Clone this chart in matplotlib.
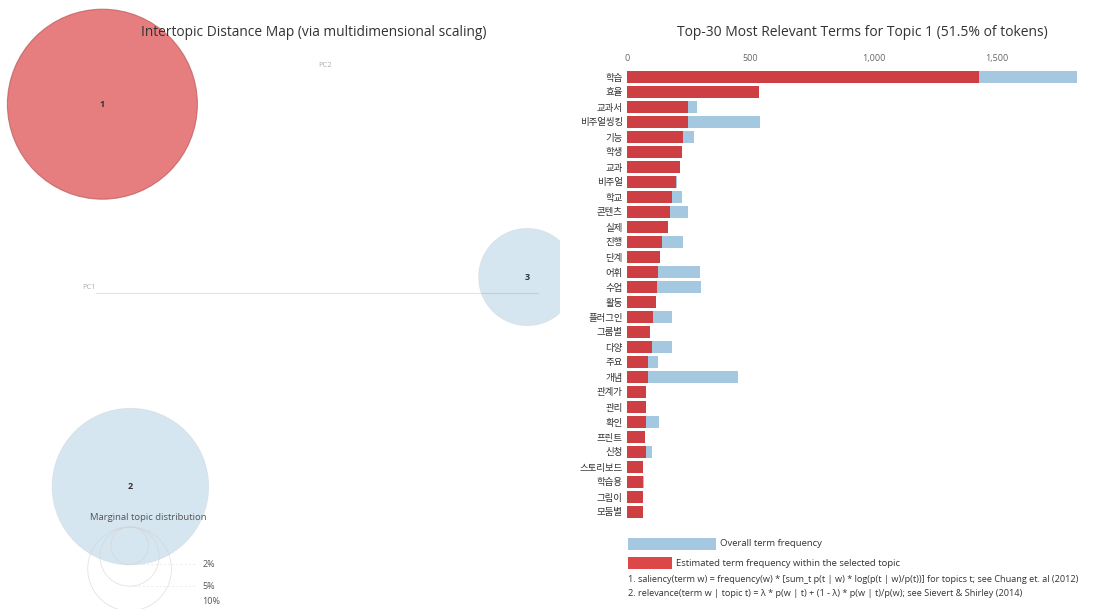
import matplotlib
matplotlib.use("Agg")
import matplotlib.pyplot as plt
from matplotlib.patches import Circle, Rectangle

plt.rcParams['font.family'] = ['Open Sans', 'Noto Sans CJK KR', 'DejaVu Sans']

# terms shown for topic 1, top to bottom
terms = ["학습", "효율", "교과서", "비주얼씽킹", "기능", "학생", "교과", "비주얼", "학교", "콘텐츠",
         "실제", "진행", "단계", "어휘", "수업", "활동", "플러그인", "그룹별", "다양", "주요",
         "개념", "관계가", "관리", "확인", "프린트", "신청", "스토리보드", "학습용", "그림이", "모둠별"]
# estimated term frequency within topic 1
topic_freq = [1429, 534, 247, 247, 227, 221, 214, 198, 182, 174,
              166, 141, 134, 126, 121, 117, 105, 93, 101, 85,
              85, 77, 77, 79, 73, 79, 65, 65, 63, 63]
# overall term frequency
total_freq = [1826, 534, 283, 538, 271, 221, 214, 202, 223, 247,
              166, 227, 134, 296, 302, 117, 182, 93, 182, 126,
              449, 77, 77, 130, 73, 101, 65, 70, 63, 63]
freq_ticks = [0, 500, 1000, 1500]

# intertopic map
topic_ids = [1, 2, 3]
topic_pc1 = [-0.272, -0.237, 0.259]
topic_pc2 = [0.236, -0.242, 0.020]
topic_share = [51.5, 35.0, 13.5]   # % of tokens
legend_share = [2, 5, 10]

W, H = 1109, 609
fig = plt.figure(figsize=(W / 100, H / 100), dpi=100)

def fx(px):
    return px / W

def fy(py):
    return 1 - py / H

# ---- left panel: intertopic distance map ----
PX_PER_UNIT = 800.0
ox, oy = 320, 293
axl = fig.add_axes([0, 0, fx(560), 1])
axl.set_xlim(-ox / PX_PER_UNIT, (560 - ox) / PX_PER_UNIT)
axl.set_ylim(-(H - oy) / PX_PER_UNIT, oy / PX_PER_UNIT)
axl.axis("off")

k = 13.24 / PX_PER_UNIT  # radius per sqrt(% share)

# PC1 axis line
axl.plot([-0.28, 0.272], [0, 0], color="#e4e4e4", lw=0.8, zorder=0)
axl.text(-0.297, 0.002, "PC1", fontsize=5.5, color="#b0b0b0", ha="left", va="bottom")
axl.text(0.006, 0.28, "PC2", fontsize=5.5, color="#b0b0b0", ha="center", va="bottom")

for tid, x, y, s in zip(topic_ids, topic_pc1, topic_pc2, topic_share):
    r = k * s ** 0.5
    if tid == 1:
        c = Circle((x, y), r, facecolor="#d62728", alpha=0.6, edgecolor="#b04a4a", lw=0.8, zorder=2)
    else:
        c = Circle((x, y), r, facecolor="#1f77b4", alpha=0.18, edgecolor="#a8a8a8", lw=0.6, zorder=2)
    axl.add_patch(c)
    axl.text(x, y, str(tid), fontsize=6.5, color="#333333", ha="center", va="center",
             fontweight="bold", zorder=3)

# marginal topic distribution legend
lx = -0.238
ltop = -(527 - oy) / PX_PER_UNIT
label_floor = -(601 - oy) / PX_PER_UNIT
axl.text(-0.215, -(518 - oy) / PX_PER_UNIT, "Marginal topic distribution", fontsize=6.8,
         color="#555555", ha="center", va="center", zorder=4)
for s in legend_share:
    r = k * s ** 0.5
    cy = ltop - r
    axl.add_patch(Circle((lx, cy), r, facecolor="none", edgecolor="#d0d0d0",
                         lw=0.6, alpha=0.6, zorder=3))
    axl.plot([lx, -0.155], [cy - r, cy - r], color="#e6e6e6", lw=0.5, ls=(0, (3, 3)), zorder=3)
    axl.text(-0.147, max(cy - r, label_floor), "%d%%" % s, fontsize=6.5, color="#555555",
             ha="left", va="center")

fig.text(fx(314), fy(32), "Intertopic Distance Map (via multidimensional scaling)",
         fontsize=9.9, color="#333333", ha="center", va="center")

# ---- right panel: term bars ----
x0, x1 = 627, 1080
y0, y1 = 69.5, 519.5
axr = fig.add_axes([fx(x0), fy(y1), fx(x1 - x0), (y1 - y0) / H])
xmax = (x1 - x0) / (370 / 1500)
axr.set_xlim(0, xmax)
axr.set_ylim(len(terms) - 0.5, -0.5)
rows = list(range(len(terms)))
axr.barh(rows, total_freq, height=0.8, color="#1f77b4", alpha=0.4, lw=0)
axr.barh(rows, topic_freq, height=0.8, color="#d62728", alpha=0.85, lw=0)
axr.set_yticks(rows)
axr.set_yticklabels(terms, fontsize=6.8, color="#333333")
axr.xaxis.tick_top()
axr.set_xticks(freq_ticks)
axr.set_xticklabels(["{:,}".format(t) for t in freq_ticks], fontsize=6.5, color="#666666")
axr.tick_params(axis="x", length=0, pad=5)
axr.tick_params(axis="y", length=0, pad=3)
for sp in axr.spines.values():
    sp.set_visible(False)

fig.text(fx(862), fy(32), "Top-30 Most Relevant Terms for Topic 1 (51.5% of tokens)",
         fontsize=10, color="#333333", ha="center", va="center")

# legend swatches
fig.patches.append(Rectangle((fx(628), fy(550)), fx(88), 12 / H, transform=fig.transFigure,
                             facecolor="#1f77b4", alpha=0.4, lw=0))
fig.patches.append(Rectangle((fx(628), fy(569)), fx(44), 12 / H, transform=fig.transFigure,
                             facecolor="#d62728", alpha=0.85, lw=0))
fig.text(fx(720), fy(544), "Overall term frequency", fontsize=6.8, color="#333333", va="center")
fig.text(fx(676), fy(563), "Estimated term frequency within the selected topic", fontsize=6.8,
         color="#333333", va="center")
fig.text(fx(628), fy(580),
         "1. saliency(term w) = frequency(w) * [sum_t p(t | w) * log(p(t | w)/p(t))] for topics t; see Chuang et. al (2012)",
         fontsize=6.6, color="#333333", va="center")
fig.text(fx(628), fy(594),
         "2. relevance(term w | topic t) = \u03bb * p(w | t) + (1 - \u03bb) * p(w | t)/p(w); see Sievert & Shirley (2014)",
         fontsize=6.6, color="#333333", va="center")

fig.savefig("out.png", dpi=100, facecolor="white")
